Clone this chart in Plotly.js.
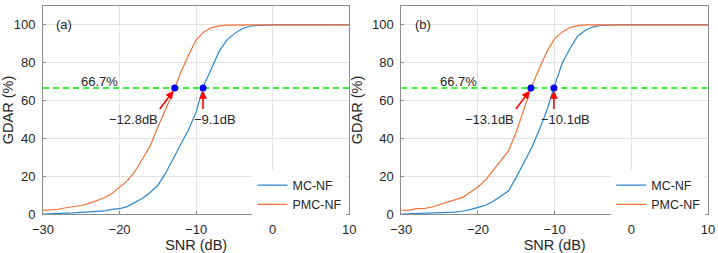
<!DOCTYPE html>
<html>
<head>
<meta charset="utf-8">
<script src="https://cdn.plot.ly/plotly-3.0.1.min.js"></script>
<style>html,body{margin:0;padding:0;background:#fff;}#chart{width:718px;height:253px;}</style>
</head>
<body>
<div id="chart"></div>
<script>
// SNR grid (dB)
const snr = [-30,-29,-28,-27,-26,-25,-24,-23,-22,-21,-20,-19,-18,-17,-16,-15,-14,-13,-12,-11,-10,-9,-8,-7,-6,-5,-4,-3,-2,-1,0,1,2,3,4,5,6,7,8,9,10];

// Panel (a)
const mcA  = [0,0.1,0.2,0.4,0.6,0.9,1.1,1.4,1.6,2.4,2.8,3.9,6.0,8.3,11.4,15.2,21.6,29.0,36.6,44.5,54.0,68.0,77.0,86.0,92.0,95.4,98.0,99.3,99.8,100,100,100,100,100,100,100,100,100,100,100,100];
const pmcA = [1.9,2.2,2.5,3.3,4.0,4.5,5.6,7.2,8.6,10.8,14.0,17.5,22.5,29.0,36.0,46.0,55.5,64.5,75.0,84.0,92.0,96.3,98.6,99.5,99.9,100,100,100,100,100,100,100,100,100,100,100,100,100,100,100,100];

// Panel (b)
const mcB  = [0,0.1,0.2,0.3,0.4,0.5,0.8,1.0,1.6,2.3,3.5,4.6,6.7,9.3,12.3,19.5,27.0,35.0,44.5,55.0,68.0,80.0,87.5,94.0,97.2,99.0,99.7,100,100,100,100,100,100,100,100,100,100,100,100,100,100];
const pmcB = [1.9,2.1,2.8,2.9,3.7,5.0,6.0,7.5,8.8,11.5,14.3,18.0,23.3,28.0,33.5,43.5,55.5,67.5,77.0,86.0,92.8,96.3,98.6,99.6,100,100,100,100,100,100,100,100,100,100,100,100,100,100,100,100,100];

// 66.7% threshold crossings
const threshold = 66.7;
const crossA = [-12.8, -9.1];
const crossB = [-13.1, -10.1];
const crossLabelsA = ['\u221212.8dB', '\u22129.1dB'];
const crossLabelsB = ['\u221213.1dB', '\u221210.1dB'];
const seriesNames = ['MC-NF', 'PMC-NF'];
const panelLabels = ['(a)', '(b)'];

const cBlue = '#2a86d0', cOrange = '#f5713a';
const FONT = 'Liberation Sans, Arial, sans-serif';
const txt = '#262626';

function panelTraces(mc, pmc, cross, xa, ya, leg) {
  return [
    {x: snr, y: mc, xaxis: xa, yaxis: ya, mode: 'lines', name: seriesNames[0], line: {color: cBlue, width: 1.2}, legend: leg},
    {x: snr, y: pmc, xaxis: xa, yaxis: ya, mode: 'lines', name: seriesNames[1], line: {color: cOrange, width: 1.2}, legend: leg},
    {x: [-30, 10], y: [threshold, threshold], xaxis: xa, yaxis: ya, mode: 'lines', showlegend: false, line: {color: '#00ee00', width: 1.5, dash: '6px,4px'}},
    {x: cross, y: cross.map(() => threshold), xaxis: xa, yaxis: ya, mode: 'markers', showlegend: false, marker: {color: '#0000ff', size: 7}}
  ];
}

const data = [].concat(
  panelTraces(mcA, pmcA, crossA, 'x', 'y', 'legend'),
  panelTraces(mcB, pmcB, crossB, 'x2', 'y2', 'legend2')
);

function panelAnn(cross, labels, xr, yr, plabel) {
  const base = {xref: xr, yref: yr, font: {family: FONT, size: 13, color: txt}};
  return [
    Object.assign({}, base, {x: -27.2, y: 100, text: plabel, showarrow: false}),
    Object.assign({}, base, {x: -22.6, y: 70, text: '66.7%', showarrow: false}),
    // arrow to left crossing (diagonal)
    Object.assign({}, base, {x: cross[0] - 0.15, y: threshold - 1.5, ax: cross[0] - 2.1, ay: threshold - 12, axref: xr, ayref: yr, text: '', showarrow: true, arrowhead: 2, arrowsize: 1, arrowwidth: 1.6, arrowcolor: '#ff0000', standoff: 0}),
    Object.assign({}, base, {x: cross[0] - 5.4, y: 50, text: labels[0], showarrow: false}),
    // arrow to right crossing (vertical)
    Object.assign({}, base, {x: cross[1], y: threshold - 1.5, ax: cross[1], ay: threshold - 12, axref: xr, ayref: yr, text: '', showarrow: true, arrowhead: 2, arrowsize: 1, arrowwidth: 1.6, arrowcolor: '#ff0000', standoff: 0}),
    Object.assign({}, base, {x: cross[1] + 1.5, y: 50, text: labels[1], showarrow: false})
  ];
}

function xAxis(domain, anchor) {
  return {domain: domain, anchor: anchor, range: [-30, 10], dtick: 10, tick0: -30,
    showgrid: true, gridcolor: '#e3e3e3', zeroline: false,
    showline: true, linecolor: '#8c8c8c', linewidth: 1, mirror: true,
    ticks: 'inside', ticklen: 3, tickcolor: '#8c8c8c', ticklabelstandoff: 3,
    tickfont: {family: FONT, size: 13, color: txt},
    title: {text: 'SNR (dB)', font: {family: FONT, size: 14.5, color: txt}, standoff: 2}};
}
function yAxis(anchor) {
  return {domain: [0, 1], anchor: anchor, range: [0, 110], tickvals: [0, 20, 40, 60, 80, 100],
    showgrid: true, gridcolor: '#e3e3e3', zeroline: false,
    showline: true, linecolor: '#8c8c8c', linewidth: 1, mirror: true,
    ticks: 'inside', ticklen: 3, tickcolor: '#8c8c8c', ticklabelstandoff: 4,
    tickfont: {family: FONT, size: 13, color: txt},
    title: {text: 'GDAR (%)', font: {family: FONT, size: 14.5, color: txt}, standoff: 5}};
}

const legendStyle = {bgcolor: '#ffffff', borderwidth: 0, font: {family: FONT, size: 12.5, color: txt},
  xanchor: 'left', yanchor: 'bottom', itemwidth: 30, tracegroupgap: 0};

const layout = {
  width: 718, height: 253,
  margin: {l: 43, r: 10, t: 6, b: 39},
  paper_bgcolor: '#ffffff', plot_bgcolor: '#ffffff',
  showlegend: true,
  xaxis: xAxis([0, 0.4606], 'y'),
  yaxis: yAxis('x'),
  xaxis2: xAxis([0.5388, 1], 'y2'),
  yaxis2: yAxis('x2'),
  legend: Object.assign({}, legendStyle, {x: 0.315, y: -0.026}),
  legend2: Object.assign({}, legendStyle, {x: 0.8545, y: -0.026}),
  annotations: [].concat(panelAnn(crossA, crossLabelsA, 'x', 'y', panelLabels[0]), panelAnn(crossB, crossLabelsB, 'x2', 'y2', panelLabels[1]))
};

Plotly.newPlot('chart', data, layout, {staticPlot: true, displayModeBar: false});
</script>
</body>
</html>
